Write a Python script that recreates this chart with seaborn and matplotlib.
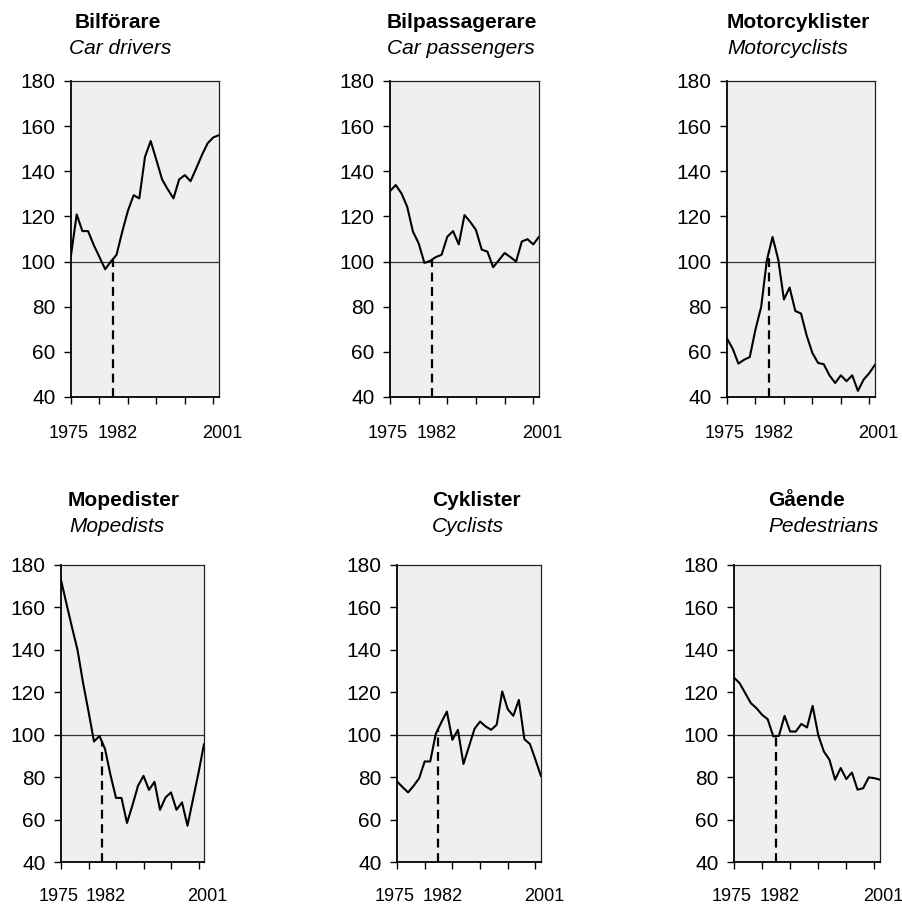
import numpy as np
import pandas as pd
import matplotlib.pyplot as plt
import seaborn as sns

# Index values, 1975-2001
years = list(range(1975, 2002))

car_drivers = [102.8, 120.9, 113.5, 113.5, 107.3, 102.0, 96.6, 100.0, 103.0, 113.2,
               122.5, 129.4, 128.0, 146.4, 153.4, 145.0, 136.4, 132.0, 128.0, 136.4,
               138.3, 135.6, 141.3, 147.2, 152.4, 155.0, 156.0]
car_passengers = [131.2, 133.9, 130.2, 124.3, 113.3, 108.1, 99.4, 100.3, 102.0, 103.0,
                  111.0, 113.5, 107.6, 120.6, 117.6, 114.0, 105.3, 104.4, 97.5, 100.6,
                  103.8, 102.0, 100.0, 108.9, 109.9, 107.6, 111.0]
motorcyclists = [65.9, 61.4, 54.8, 56.5, 57.7, 69.9, 79.9, 100.5, 110.9, 100.9,
                 83.2, 88.5, 78.1, 77.0, 67.2, 59.5, 55.1, 54.5, 49.6, 46.2,
                 49.6, 47.0, 49.6, 42.7, 47.7, 50.6, 54.3]
mopedists = [172.9, 161.7, 150.6, 140.0, 124.6, 111.0, 96.8, 99.4, 93.3, 81.0,
             70.2, 70.2, 58.4, 66.8, 75.9, 80.6, 74.0, 77.8, 64.6, 70.4,
             72.8, 64.6, 68.1, 57.1, 69.6, 82.0, 95.6]
cyclists = [78.0, 75.3, 72.8, 75.9, 79.5, 87.4, 87.4, 100.4, 105.8, 110.9,
            97.6, 102.3, 86.2, 94.5, 102.8, 106.2, 103.9, 102.3, 104.7, 120.4,
            112.0, 108.9, 116.4, 97.9, 95.6, 88.2, 80.4]
pedestrians = [126.9, 124.3, 119.6, 114.9, 112.5, 109.4, 107.3, 99.2, 99.5, 108.9,
               101.5, 101.5, 105.1, 103.4, 113.6, 99.9, 92.1, 88.2, 78.8, 84.3,
               79.1, 82.2, 74.1, 74.8, 79.9, 79.5, 78.8]

titles_sv = ["Bilförare", "Bilpassagerare", "Motorcyklister",
             "Mopedister", "Cyklister", "Gående"]
titles_en = ["Car drivers", "Car passengers", "Motorcyclists",
             "Mopedists", "Cyclists", "Pedestrians"]
series = [car_drivers, car_passengers, motorcyclists, mopedists, cyclists, pedestrians]

base_year = 1982
year_labels = ["1975", "1982", "2001"]

sns.set_style("white")
plt.rcParams['font.family'] = ['Liberation Sans', 'DejaVu Sans']
plt.rcParams['text.color'] = 'black'
plt.rcParams['xtick.color'] = 'black'
plt.rcParams['ytick.color'] = 'black'

W, H = 903, 906
fig = plt.figure(figsize=(W / 100, H / 100), dpi=100)

# axes boxes in pixels: left, right, top, bottom
boxes = [(71, 219, 81, 397), (390, 539, 81, 397), (727, 875, 81, 397),
         (61, 204, 565, 862), (397, 541, 565, 862), (734, 880, 565, 862)]
title_x = [75, 387, 727, 68, 432, 768]
sub_x = [69, 387, 727, 69, 432, 768]

for i, (vals, box) in enumerate(zip(series, boxes)):
    l, r, t, b = box
    ax = fig.add_axes([l / W, 1 - b / H, (r - l) / W, (b - t) / H])
    ax.set_facecolor('#efefef')
    df = pd.DataFrame({'year': years, 'index': vals})
    sns.lineplot(data=df, x='year', y='index', ax=ax, color='black', linewidth=1.5)
    ax.axhline(100, color='#333333', linewidth=0.9, zorder=1)
    xm = base_year + 0.4
    top = np.interp(xm, years, vals)
    ax.plot([xm, xm], [40, top], color='black', linestyle=(0, (4, 2.5)), linewidth=1.6)

    ax.set_xlim(1975, 2001)
    ax.set_ylim(40, 180)
    ax.set_yticks(range(40, 181, 20))
    ax.set_xticks(range(1975, 2001, 5))
    ax.set_xticklabels([])
    ax.set_xlabel("")
    ax.set_ylabel("")
    ax.tick_params(axis='y', labelsize=15, length=5, width=1, color='black', pad=6, left=True)
    ax.tick_params(axis='x', length=5, width=1, color='black', bottom=True)
    for side in ['left', 'bottom']:
        ax.spines[side].set_linewidth(1.3)
        ax.spines[side].set_color('black')
    for side in ['top', 'right']:
        ax.spines[side].set_linewidth(0.9)
        ax.spines[side].set_color('#222222')

    # year labels under the axis
    for xv, lab in zip([1974.5, 1983.2, 2001.6], year_labels):
        ax.text(xv, -0.115, lab, transform=ax.get_xaxis_transform(),
                ha='center', va='center', fontsize=13)

    # two-line panel title
    row_y = 28 if i < 3 else 506
    fig.text(title_x[i] / W, 1 - row_y / H, titles_sv[i], fontsize=15,
             fontweight='bold', ha='left', va='baseline')
    fig.text(sub_x[i] / W, 1 - (row_y + 26) / H, titles_en[i], fontsize=15,
             fontstyle='italic', ha='left', va='baseline')

plt.savefig("out.png", dpi=100)
